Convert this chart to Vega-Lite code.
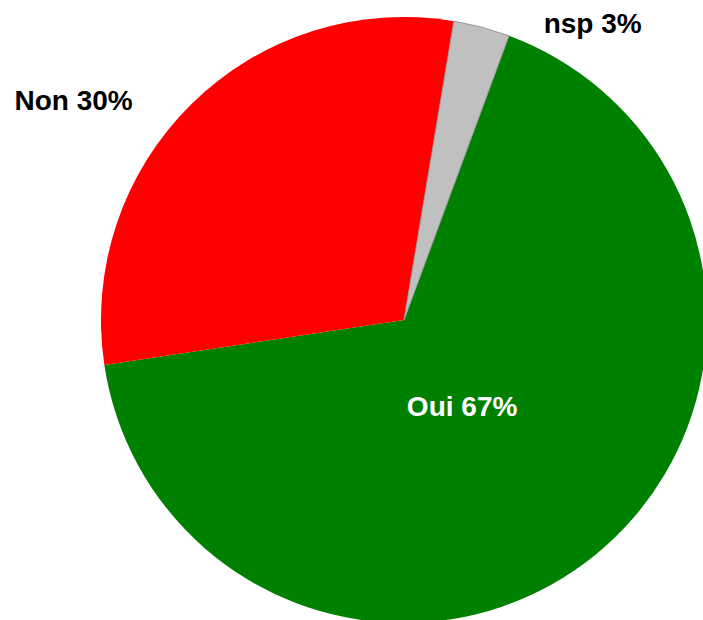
{
  "$schema": "https://vega.github.io/schema/vega-lite/v6.json",
  "width": 606,
  "height": 608,
  "autosize": "none",
  "padding": {"left": 101, "top": 16, "right": 0, "bottom": 0},
  "background": "white",
  "view": {"stroke": null},
  "data": {
    "values": [
      {"cat": "Oui", "value": 67, "libelle": "Oui 67%"},
      {"cat": "Non", "value": 30, "libelle": "Non 30%"},
      {"cat": "nsp", "value": 3, "libelle": "nsp 3%"}
    ]
  },
  "encoding": {
    "theta": {"field": "value", "type": "quantitative", "stack": true, "scale": {"range": [0.354, 6.637]}},
    "order": {"field": "value", "type": "quantitative", "sort": "descending"},
    "detail": {"field": "cat", "type": "nominal"}
  },
  "layer": [
    {
      "mark": {"type": "arc", "stroke": "#999999"},
      "encoding": {
        "color": {"field": "cat", "type": "nominal", "scale": {"domain": ["Oui", "Non", "nsp"], "range": ["#008000", "#FF0000", "#C0C0C0"]}, "legend": null},
        "strokeWidth": {"condition": {"test": "datum.cat === 'nsp'", "value": 1}, "value": 0}
      }
    },
    {
      "mark": {"type": "text", "radius": 100, "dx": -5, "dy": 18, "baseline": "alphabetic", "align": "center", "font": "Liberation Sans", "fontWeight": "bold", "fontSize": 28, "color": "white"},
      "encoding": {"text": {"condition": {"test": "datum.cat === 'Oui'", "field": "libelle", "type": "nominal"}, "value": ""}}
    },
    {
      "mark": {"type": "text", "radius": 340, "dx": -92, "dy": 32, "baseline": "alphabetic", "align": "center", "font": "Liberation Sans", "fontWeight": "bold", "fontSize": 28, "color": "black"},
      "encoding": {"text": {"condition": {"test": "datum.cat === 'Non'", "field": "libelle", "type": "nominal"}, "value": ""}}
    },
    {
      "mark": {"type": "text", "radius": 330, "dx": 104, "dy": 32, "baseline": "alphabetic", "align": "center", "font": "Liberation Sans", "fontWeight": "bold", "fontSize": 28, "color": "black"},
      "encoding": {"text": {"condition": {"test": "datum.cat === 'nsp'", "field": "libelle", "type": "nominal"}, "value": ""}}
    }
  ]
}
